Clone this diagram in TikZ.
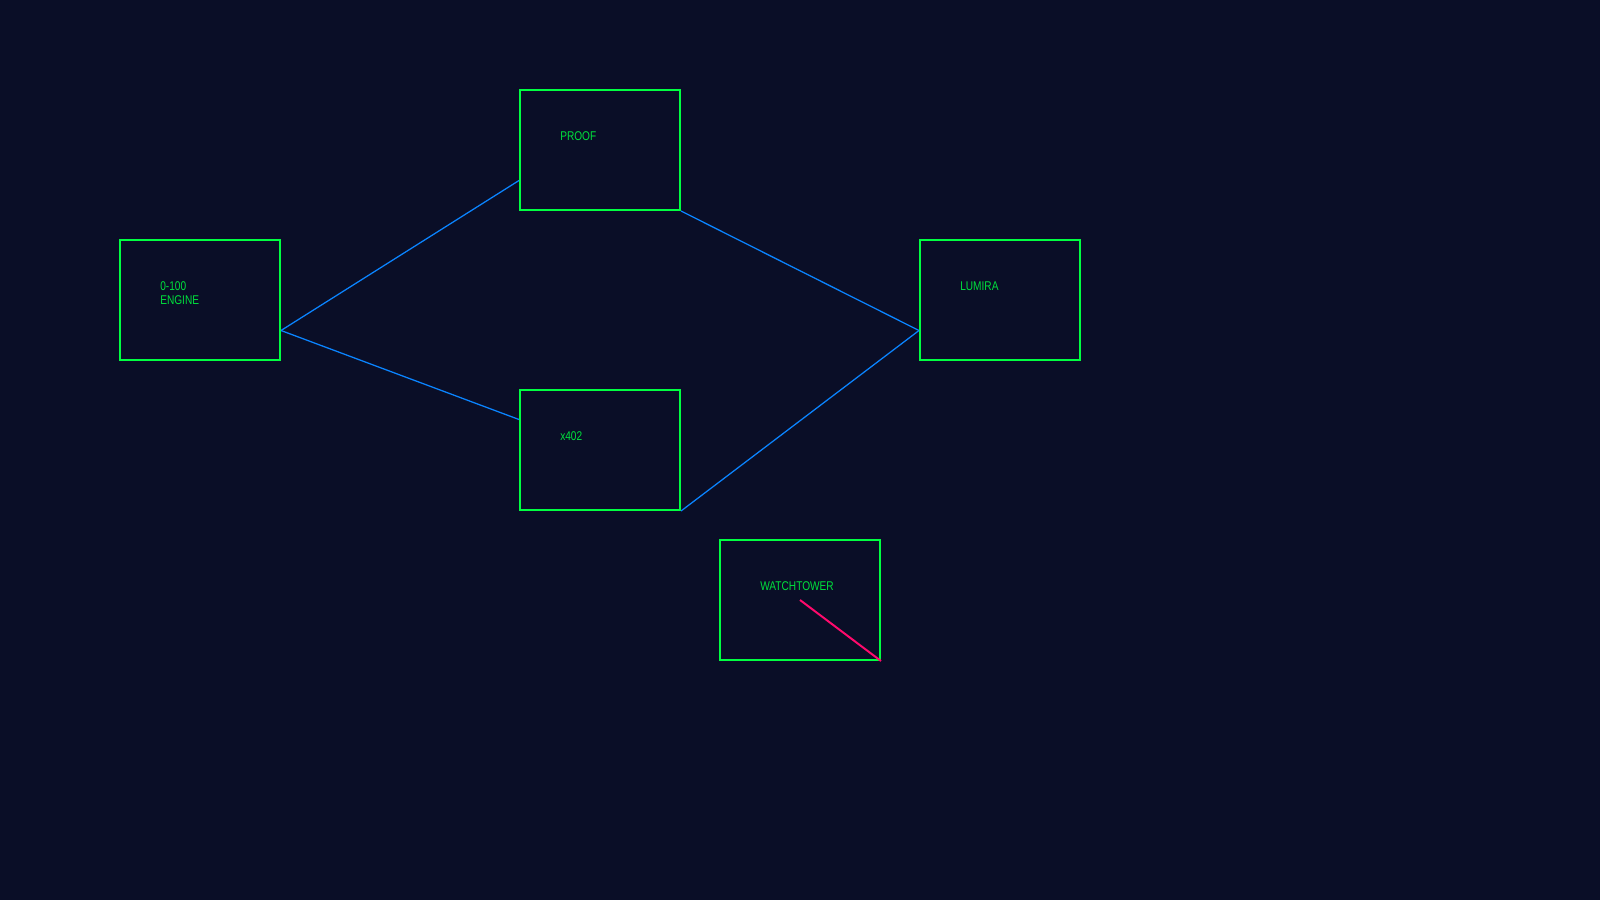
\documentclass[tikz,border=0pt]{standalone}
\usepackage{fontspec}
\setmainfont{Liberation Sans}
\newfontfamily\tagfont[FakeStretch=0.8]{Liberation Sans}
\usetikzlibrary{calc}

\definecolor{bgnavy}{HTML}{0A0E27}
\definecolor{boxgreen}{HTML}{00FF41}
\definecolor{textgreen}{HTML}{00E03C}
\definecolor{linkblue}{HTML}{0A84FF}
\definecolor{alertpink}{HTML}{FF0A6C}

\tikzset{
	box/.style={draw=boxgreen, line width=1.4pt, minimum width=4cm, minimum height=3cm, inner sep=0pt},
	tag/.style={text=textgreen, font=\tagfont\fontsize{9}{10}\selectfont, align=left, anchor=west, inner sep=0pt},
	link/.style={linkblue, line width=0.9pt},
	alarm/.style={alertpink, line width=1.4pt}
}

\begin{document}
\begin{tikzpicture}[x=0.025cm, y=-0.025cm]
	
	% BACKGROUND
	\fill[bgnavy] (0, 0) rectangle (1600, 900);
	\useasboundingbox (0, 0) rectangle (1600, 900);
	
	% BOXES
	\foreach \name/\x/\y in {engine/200/300, proof/600/150, xcode/600/450, lumira/1000/300, watch/800/600}
	\node[box] (\name) at (\x, \y) {};
	
	% LABELS
	\node[tag] (enginetext) at ([shift={(41, 54)}]engine.north west) {0-100\\ENGINE};
	\node[tag] (prooftext)  at ([shift={(41, 47)}]proof.north west)  {PROOF};
	\node[tag] (xcodetext)  at ([shift={(41, 47)}]xcode.north west)  {x402};
	\node[tag] (lumiratext) at ([shift={(41, 47)}]lumira.north west) {LUMIRA};
	\node[tag] (watchtext)  at ([shift={(41, 47)}]watch.north west)  {WATCHTOWER};
	
	% LINKS
	\draw[link] ($(engine.east)!0.5!(engine.south east)$) -- ($(proof.west)!0.5!(proof.south west)$);
	\draw[link] ($(engine.east)!0.5!(engine.south east)$) -- ($(xcode.west)!0.5!(xcode.north west)$);
	\draw[link] (proof.south east) -- ($(lumira.west)!0.5!(lumira.south west)$);
	\draw[link] (xcode.south east) -- ($(lumira.west)!0.5!(lumira.south west)$);
	
	% Watchtower alert
	\draw[alarm] (watch.center) -- (watch.south east);
	
\end{tikzpicture}
\end{document}
